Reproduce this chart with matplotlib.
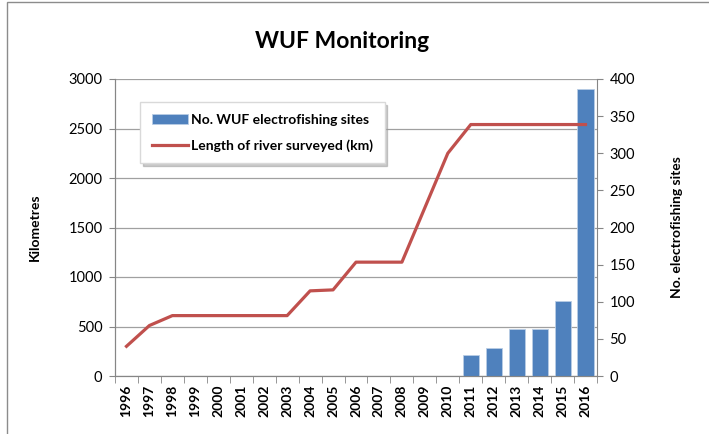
"""
WUF Monitoring: electrofishing sites (bars, right axis) and length of river
surveyed (line, left axis) per year.
"""
import matplotlib
matplotlib.use("Agg")
import matplotlib.pyplot as plt
from matplotlib.patches import Rectangle
import numpy as np

YEARS = [str(y) for y in range(1996, 2017)]
RIVER_KM = [300, 510, 610, 610, 610, 610, 610, 610, 860, 870, 1150, 1150,
            1150, 1700, 2250, 2540, 2540, 2540, 2540, 2540, 2540]
SITES = [0, 0, 0, 0, 0, 0, 0, 0, 0, 0, 0, 0, 0, 0, 0, 28, 38, 63, 63, 101, 386]

BLUE = "#4F81BD"
RED = "#C0504D"
GRID = "#A0A0A0"
AXIS = "#868686"


def main() -> None:
    plt.rcParams["font.family"] = ["Lato", "DejaVu Sans"]
    fig = plt.figure(figsize=(7.09, 4.34), dpi=100)
    ax = fig.add_axes([115 / 709, 58 / 434, 482 / 709, 297 / 434])
    ax2 = ax.twinx()
    ax3 = ax.twinx()

    x = np.arange(len(YEARS))

    # bars on the right axis
    ax2.bar(x, SITES, width=0.7, color=BLUE, edgecolor="#B9CDE5", linewidth=0.6,
            label="No. WUF electrofishing sites")
    ax2.set_ylim(0, 400)
    ax2.set_yticks(range(0, 401, 50))

    # line on top, same scale as left axis
    ax3.plot(x, RIVER_KM, color=RED, linewidth=2.3,
             label="Length of river surveyed (km)")
    ax3.set_ylim(0, 3000)
    ax3.set_yticks([])
    for s in ax3.spines.values():
        s.set_visible(False)

    ax.set_ylim(0, 3000)
    ax.set_yticks(range(0, 3001, 500))
    for a in (ax, ax2, ax3):
        a.set_xlim(-0.5, len(YEARS) - 0.5)
    ax.yaxis.grid(True, color=GRID, linewidth=0.9)
    ax.set_axisbelow(True)

    ax.set_xticks(x)
    ax.set_xticklabels(YEARS, rotation=90, fontsize=10, fontweight="bold")
    ax.set_xticks(np.arange(-0.5, len(YEARS), 1), minor=True)
    ax.tick_params(axis="x", which="major", length=0, pad=6)
    ax.tick_params(axis="x", which="minor", length=5, color=AXIS)
    ax.tick_params(axis="y", length=4, color=AXIS, labelsize=10.5, pad=5)
    ax2.tick_params(axis="y", length=4, color=AXIS, labelsize=10.5, pad=5)

    for a in (ax, ax2):
        a.spines["top"].set_visible(False)
        for side in ("left", "right", "bottom"):
            a.spines[side].set_color(AXIS)
    ax.spines["right"].set_visible(False)

    ax.set_ylabel("Kilometres", fontsize=10, fontweight="bold", labelpad=20)
    ax2.set_ylabel("No. electrofishing sites", fontsize=10, fontweight="bold",
                   labelpad=26)

    fig.text(342 / 709, 1 - 42 / 434, "WUF Monitoring", ha="center",
             va="center", fontsize=16.5, fontweight="bold")

    handles = ax2.get_legend_handles_labels()[0] + ax3.get_legend_handles_labels()[0]
    labels = [h.get_label() for h in handles]
    leg = ax3.legend(handles, labels, loc="upper left",
                     bbox_to_anchor=(0.052, 0.923), borderaxespad=0,
                     fancybox=False, shadow={"color": "0.6", "alpha": 0.5},
                     prop={"weight": "bold", "size": 10}, handlelength=2.6,
                     handletextpad=0.2, labelspacing=0.95, borderpad=0.85)
    leg.get_frame().set_edgecolor("#D9D9D9")

    # chart area border
    fig.add_artist(Rectangle((7 / 709, -0.1), 2, 1.1 - 2 / 434,
                             transform=fig.transFigure, fill=False,
                             edgecolor="#8C8C8C", linewidth=1))

    fig.savefig("out.png", dpi=100)


if __name__ == "__main__":
    main()
